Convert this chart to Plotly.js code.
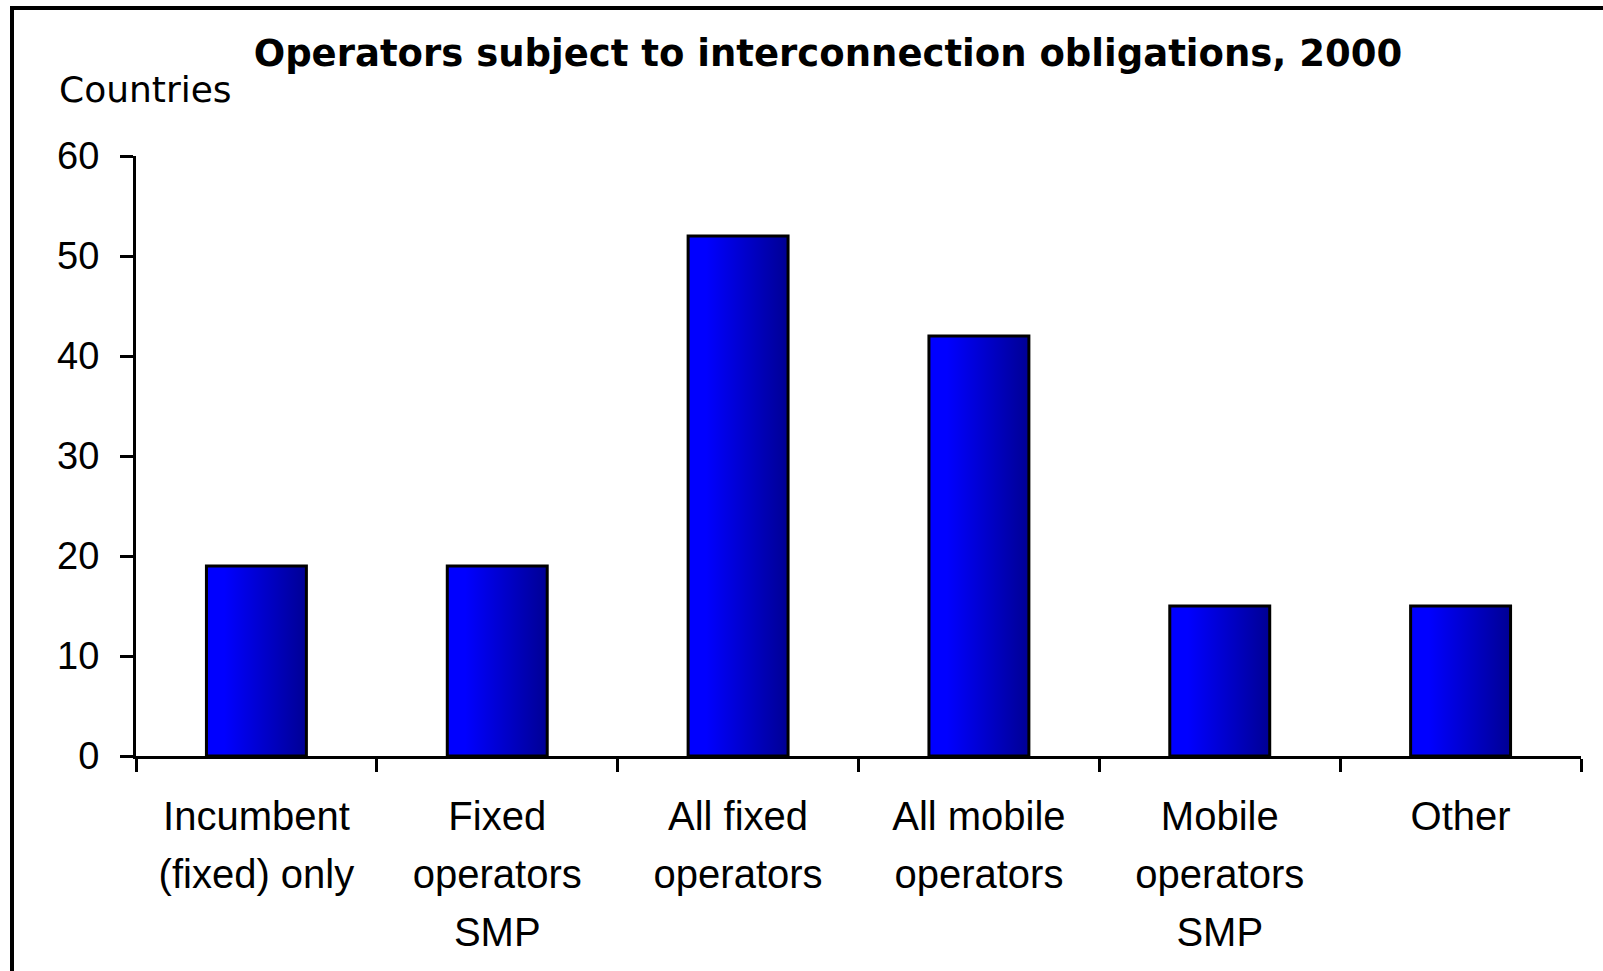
<!DOCTYPE html>
<html>
<head>
<meta charset="utf-8">
<script src="https://cdn.plot.ly/plotly-3.0.1.min.js"></script>
<style>
  html, body { margin: 0; padding: 0; background: #ffffff; }
  #chart { width: 1603px; height: 971px; position: relative; }
  #frame { position: absolute; left: 10px; top: 6px; right: 0; bottom: 0;
           border-left: 4px solid #000; border-top: 4px solid #000; pointer-events: none; }
</style>
</head>
<body>
<div id="chart"></div>
<div id="frame"></div>
<script>
const categories = [
  "Incumbent<br>(fixed) only",
  "Fixed<br>operators<br>SMP",
  "All fixed<br>operators",
  "All mobile<br>operators",
  "Mobile<br>operators<br>SMP",
  "Other"
];
const countries = [19, 19, 52, 42, 15, 15];
const yTicks = [0, 10, 20, 30, 40, 50, 60];

const FONT = "Liberation Sans, Arial, sans-serif";
const WIDE = "DejaVu Sans, Verdana, sans-serif";

const trace = {
  type: "bar",
  x: categories,
  y: countries,
  marker: { color: "#0000ee", line: { color: "#000000", width: 3 } },
  hoverinfo: "x+y"
};

const layout = {
  width: 1603,
  height: 971,
  margin: { l: 136, r: 22, t: 156, b: 215, pad: 0 },
  paper_bgcolor: "#ffffff",
  plot_bgcolor: "#ffffff",
  showlegend: false,
  bargap: 0.585,
  font: { family: FONT, color: "#000000" },
  title: {
    text: "<b>Operators subject to interconnection obligations, 2000</b>",
    font: { family: WIDE, size: 37, color: "#000000" },
    x: 0.5165, xanchor: "center", xref: "container",
    y: 0.945, yanchor: "middle", yref: "container"
  },
  xaxis: {
    type: "category",
    showgrid: false,
    showline: true, linecolor: "#000000", linewidth: 3,
    ticks: "outside", tickson: "boundaries", ticklen: 13, tickwidth: 3, tickcolor: "#000000",
    tickfont: { family: FONT, size: 40, color: "#000000" },
    ticklabelstandoff: 23,
    zeroline: false,
    fixedrange: true
  },
  yaxis: {
    range: [0, 60],
    tickvals: yTicks,
    ticktext: yTicks.map(String),
    showgrid: false,
    showline: true, linecolor: "#000000", linewidth: 3,
    ticks: "outside", ticklen: 13, tickwidth: 3, tickcolor: "#000000",
    tickfont: { family: FONT, size: 38, color: "#000000" },
    ticklabelstandoff: 13,
    zeroline: false,
    fixedrange: true
  },
  annotations: [{
    text: "Countries",
    xref: "paper", yref: "paper",
    x: -0.055, y: 1.11,
    xanchor: "left", yanchor: "middle",
    showarrow: false,
    font: { family: WIDE, size: 36, color: "#000000" }
  }]
};

function applyStyling(gd) {
  const svg = gd.querySelector("svg.main-svg");
  if (!svg) return;
  const ns = "http://www.w3.org/2000/svg";
  let defs = svg.querySelector("defs");
  if (!defs) { defs = document.createElementNS(ns, "defs"); svg.insertBefore(defs, svg.firstChild); }
  if (!svg.querySelector("#barGrad")) {
    const lg = document.createElementNS(ns, "linearGradient");
    lg.setAttribute("id", "barGrad");
    lg.setAttribute("x1", "0"); lg.setAttribute("y1", "0");
    lg.setAttribute("x2", "1"); lg.setAttribute("y2", "0");
    [["0", "#0000ff"], ["0.18", "#0000ff"], ["1", "#000094"]].forEach(function (s) {
      const st = document.createElementNS(ns, "stop");
      st.setAttribute("offset", s[0]);
      st.setAttribute("stop-color", s[1]);
      lg.appendChild(st);
    });
    defs.appendChild(lg);
  }
  gd.querySelectorAll(".trace.bars .point path").forEach(function (p) {
    p.style.fill = "url(#barGrad)";
  });
  // widen the line spacing of the multi-line category labels (dy is offset from the first line)
  gd.querySelectorAll(".xtick text").forEach(function (t) {
    const lines = t.querySelectorAll("tspan.line");
    lines.forEach(function (ln, i) {
      ln.setAttribute("dy", (i * 1.45) + "em");
    });
  });
}

const gd = document.getElementById("chart");
Plotly.newPlot(gd, [trace], layout, { displayModeBar: false, staticPlot: true })
  .then(function () { applyStyling(gd); });
</script>
</body>
</html>
